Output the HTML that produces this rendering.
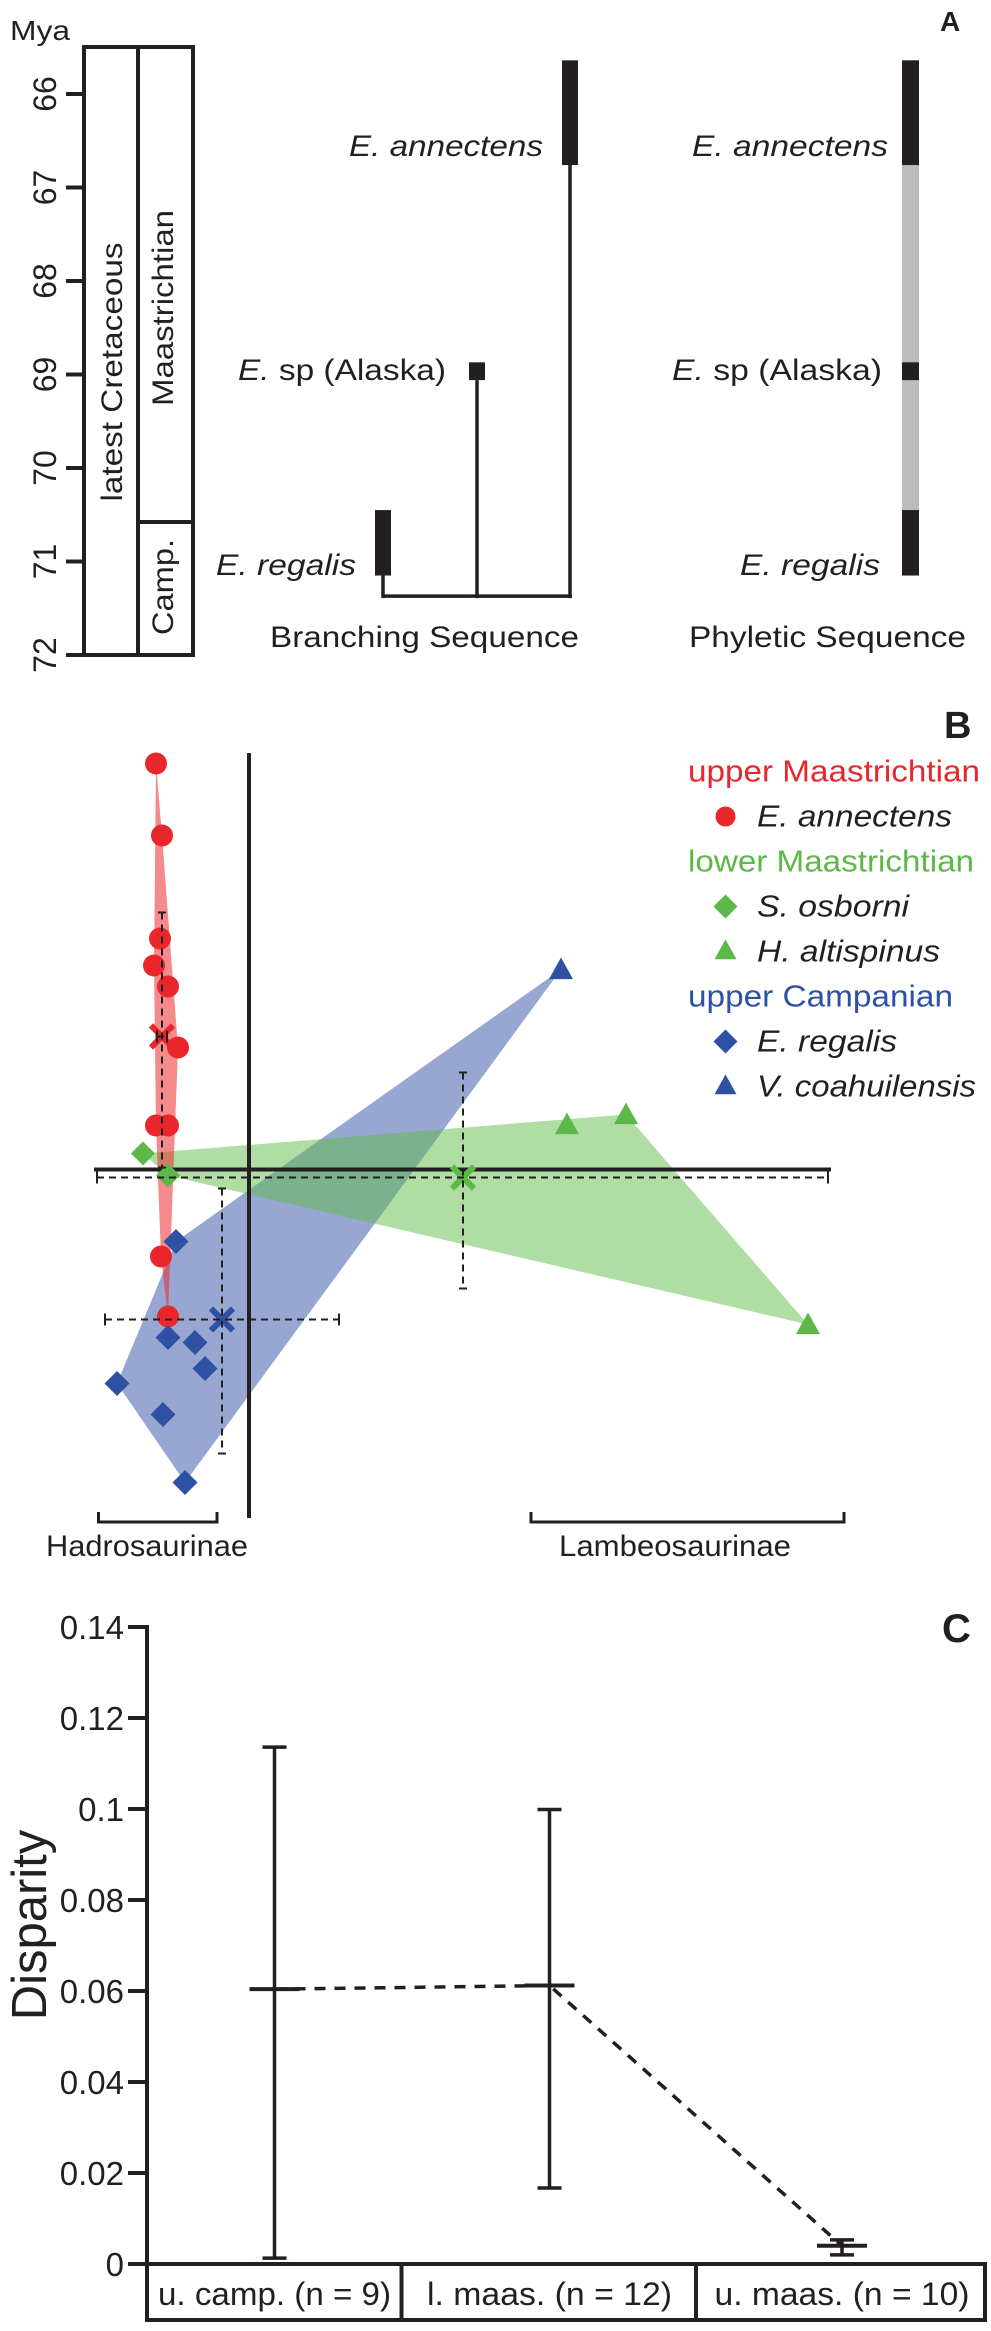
<!DOCTYPE html>
<html><head><meta charset="utf-8"><style>
html,body{margin:0;padding:0;background:#fff;}
svg{display:block;font-family:"Liberation Sans",sans-serif;}
</style></head><body>
<svg id="fig" width="991" height="2331" viewBox="0 0 991 2331" xmlns="http://www.w3.org/2000/svg"></svg>
<script>
// ---------- Panel A data ----------
const ageTicks = [66, 67, 68, 69, 70, 71, 72];
const branchTaxa = ["E. annectens", "E. sp (Alaska)", "E. regalis"];
const rangeTop = [65.64, 68.87, 70.45];
const rangeBottom = [66.76, 69.06, 71.15];
const branchNodeAge = 71.37;
// ---------- Panel B data ----------
const redX = [-0.93, -0.87, -0.89, -0.95, -0.81, -0.71, -0.93, -0.81, -0.88, -0.81];
const redY = [4.06, 3.34, 2.31, 2.04, 1.83, 1.22, 0.44, 0.44, -0.87, -1.47];
const osborniX = [-1.06, -0.81];
const osborniY = [0.16, -0.06];
const altispinusX = [3.18, 3.77, 5.59];
const altispinusY = [0.45, 0.55, -1.55];
const regalisX = [-0.73, -0.81, -0.54, -0.44, -1.32, -0.86, -0.64];
const regalisY = [-0.72, -1.68, -1.73, -1.99, -2.14, -2.45, -3.13];
const coahX = [3.12];
const coahY = [2.0];
const centroidX = [-0.87, 2.14, -0.27];
const centroidY = [1.33, -0.08, -1.5];
const errXlo = [-0.92, -1.52, -1.44];
const errXhi = [-0.82, 5.79, 0.90];
const errYlo = [0.02, -1.19, -2.84];
const errYhi = [2.57, 0.97, -0.19];
// ---------- Panel C data ----------
const cCategories = ["u. camp. (n = 9)", "l. maas. (n = 12)", "u. maas. (n = 10)"];
const cMean = [0.0604, 0.0612, 0.0040];
const cLow = [0.0013, 0.0167, 0.0020];
const cHigh = [0.1136, 0.0999, 0.0053];
const cTicks = [0, 0.02, 0.04, 0.06, 0.08, 0.1, 0.12, 0.14];
const cTickLabels = ["0", "0.02", "0.04", "0.06", "0.08", "0.1", "0.12", "0.14"];

const NS = "http://www.w3.org/2000/svg";
const svg = document.getElementById("fig");
function mk(tag, attrs, parent) {
  const e = document.createElementNS(NS, tag);
  for (const k in attrs) e.setAttribute(k, attrs[k]);
  (parent || svg).appendChild(e);
  return e;
}
function txt(s, attrs, parent) { const e = mk("text", attrs, parent); e.textContent = s; return e; }
const INK = "#231f20";

// ================= PANEL A =================
const yAge = a => 94 + (a - 66) * 93.5;
let g = mk("g", {});


let e;
e = txt("Mya", {x: 10, y: 40, "font-size": 28, textLength: 60, lengthAdjust: "spacingAndGlyphs", fill: INK}, g);
 
e = txt("A", {x: 940, y: 31, "font-size": 28, "font-weight": "bold", fill: INK}, g);
 
e = mk("rect", {x: 84, y: 47, width: 109, height: 608, fill: "none", stroke: INK, "stroke-width": 4}, g);
 
e = mk("line", {x1: 138, y1: 47, x2: 138, y2: 655, stroke: INK, "stroke-width": 4}, g);
 
e = mk("line", {x1: 138, y1: 522, x2: 193, y2: 522, stroke: INK, "stroke-width": 4}, g);
 
e = txt("latest Cretaceous", {x: 0, y: 0, "font-size": 30, "text-anchor": "middle", textLength: 259, lengthAdjust: "spacingAndGlyphs", transform: "translate(122,372) rotate(-90)", fill: INK}, g);
 
e = txt("Maastrichtian", {x: 0, y: 0, "font-size": 30, "text-anchor": "middle", textLength: 196, lengthAdjust: "spacingAndGlyphs", transform: "translate(173,308) rotate(-90)", fill: INK}, g);
 
e = txt("Camp.", {x: 0, y: 0, "font-size": 30, "text-anchor": "middle", textLength: 96, lengthAdjust: "spacingAndGlyphs", transform: "translate(173,587) rotate(-90)", fill: INK}, g);
 
ageTicks.forEach(a => {
  const t = mk("line", {x1: 66, y1: yAge(a), x2: 84, y2: yAge(a), stroke: INK, "stroke-width": 4}, g);
   
  const l = txt(String(a), {x: 0, y: 0, "font-size": 32, "text-anchor": "middle", transform: `translate(56,${yAge(a)}) rotate(-90)`, fill: INK}, g);
   
});
// branching sequence
const branchX = [570, 477, 383];
const labelRight = [543, 446, 356];
const labelLen = [194, 208, 140];
const labelY = [156, 380, 575];
branchTaxa.forEach((n, i) => {
  const r = mk("rect", {x: branchX[i] - 8, y: yAge(rangeTop[i]), width: 16, height: yAge(rangeBottom[i]) - yAge(rangeTop[i]), fill: INK}, g);
   
  const s = mk("line", {x1: branchX[i], y1: yAge(rangeBottom[i]), x2: branchX[i], y2: yAge(branchNodeAge) + 2, stroke: INK, "stroke-width": 3.5}, g);
   
  const parts = n.split(" ");
  const t = mk("text", {x: labelRight[i], y: labelY[i], "font-size": 30, "text-anchor": "end", textLength: labelLen[i], lengthAdjust: "spacingAndGlyphs", fill: INK}, g);
  const t1 = mk("tspan", {"font-style": "italic"}, t); t1.textContent = parts[0] + " ";
  const t2 = mk("tspan", {"font-style": i === 1 ? "normal" : "italic"}, t); t2.textContent = parts.slice(1).join(" ");
   
});
e = mk("line", {x1: 383, y1: yAge(branchNodeAge), x2: 572, y2: yAge(branchNodeAge), stroke: INK, "stroke-width": 3.5}, g);
 
e = txt("Branching Sequence", {x: 270, y: 647, "font-size": 30, textLength: 309, lengthAdjust: "spacingAndGlyphs", fill: INK}, g);
 
// phyletic sequence
e = mk("rect", {x: 902, y: yAge(rangeTop[0]), width: 17, height: yAge(rangeBottom[2]) - yAge(rangeTop[0]), fill: "#bcbcbc"}, g);
 
const phyRight = [888, 882, 880];
const phyLen = [196, 210, 140];
branchTaxa.forEach((n, i) => {
  const r = mk("rect", {x: 902, y: yAge(rangeTop[i]), width: 17, height: yAge(rangeBottom[i]) - yAge(rangeTop[i]), fill: INK}, g);
   
  const parts = n.split(" ");
  const t = mk("text", {x: phyRight[i], y: labelY[i], "font-size": 30, "text-anchor": "end", textLength: phyLen[i], lengthAdjust: "spacingAndGlyphs", fill: INK}, g);
  const t1 = mk("tspan", {"font-style": "italic"}, t); t1.textContent = parts[0] + " ";
  const t2 = mk("tspan", {"font-style": i === 1 ? "normal" : "italic"}, t); t2.textContent = parts.slice(1).join(" ");
   
});
e = txt("Phyletic Sequence", {x: 689, y: 647, "font-size": 30, textLength: 277, lengthAdjust: "spacingAndGlyphs", fill: INK}, g);
 

// ================= PANEL B =================
const bx = v => 249 + v * 100;
const by = v => 1169.5 - v * 100;
const RED = "#e8262c", GREEN = "#5cb848", BLUE = "#2f51a3";
g = mk("g", {});


function hull(xs, ys) {
  const p = xs.map((x, i) => [bx(x), by(ys[i])]).sort((a, b) => a[0] - b[0] || a[1] - b[1]);
  const cr = (o, a, b) => (a[0] - o[0]) * (b[1] - o[1]) - (a[1] - o[1]) * (b[0] - o[0]);
  const lo = [], up = [];
  for (const q of p) { while (lo.length >= 2 && cr(lo[lo.length - 2], lo[lo.length - 1], q) <= 0) lo.pop(); lo.push(q); }
  for (const q of p.slice().reverse()) { while (up.length >= 2 && cr(up[up.length - 2], up[up.length - 1], q) <= 0) up.pop(); up.push(q); }
  return lo.slice(0, -1).concat(up.slice(0, -1)).map(q => q.join(",")).join(" ");
}
e = mk("polygon", {points: hull(regalisX.concat(coahX), regalisY.concat(coahY)), fill: "#2f4fa3", "fill-opacity": 0.5}, g);
 
e = mk("polygon", {points: hull(osborniX.concat(altispinusX), osborniY.concat(altispinusY)), fill: "#62bb4a", "fill-opacity": 0.5}, g);
 
e = mk("polygon", {points: hull(redX, redY), fill: "#ec2a30", "fill-opacity": 0.55}, g);
 
// axes
e = mk("line", {x1: 249, y1: 753, x2: 249, y2: 1518, stroke: INK, "stroke-width": 4}, g);
 
e = mk("line", {x1: 94, y1: 1169.5, x2: 831, y2: 1169.5, stroke: INK, "stroke-width": 4}, g);
 
// markers
function diamond(cx, cy, r, fill, name) {
  const d = mk("polygon", {points: `${cx},${cy - r} ${cx + r},${cy} ${cx},${cy + r} ${cx - r},${cy}`, fill: fill}, g);
   
}
function tri(cx, cy, r, fill, name) {
  const d = mk("polygon", {points: `${cx},${cy - r} ${cx + r},${cy + r * 0.8} ${cx - r},${cy + r * 0.8}`, fill: fill}, g);
   
}
redX.forEach((x, i) => {
  const c = mk("circle", {cx: bx(x), cy: by(redY[i]), r: 11, fill: RED}, g);
   
});
osborniX.forEach((x, i) => diamond(bx(x), by(osborniY[i]), 12, GREEN, 'osborni-point'));
altispinusX.forEach((x, i) => tri(bx(x), by(altispinusY[i]), 12, GREEN, 'altispinus-point'));
regalisX.forEach((x, i) => diamond(bx(x), by(regalisY[i]), 12.5, BLUE, 'regalis-point'));
coahX.forEach((x, i) => tri(bx(x), by(coahY[i]), 12, BLUE, 'coahuilensis-point'));
// centroids + error bars
const cCols = [RED, GREEN, BLUE];
const cNames = ["upper-maastrichtian", "lower-maastrichtian", "upper-campanian"];
centroidX.forEach((x, i) => {
  const cx = bx(x), cy = by(centroidY[i]);
  const cross = mk("path", {d: `M${cx - 11},${cy - 11}L${cx + 11},${cy + 11}M${cx + 11},${cy - 11}L${cx - 11},${cy + 11}`, stroke: cCols[i], "stroke-width": 6}, g);
   
  const x1 = bx(errXlo[i]), x2 = bx(errXhi[i]), y1 = by(errYhi[i]), y2 = by(errYlo[i]);
  const eb = mk("path", {d: `M${x1},${cy}H${x2}M${cx},${y1}V${y2}`, stroke: INK, "stroke-width": 2, "stroke-dasharray": "7,5", fill: "none"}, g);
   
  const caps = mk("path", {d: `M${x1},${cy - 6}V${cy + 6}M${x2},${cy - 6}V${cy + 6}M${cx - 4},${y1}H${cx + 4}M${cx - 4},${y2}H${cx + 4}`, stroke: INK, "stroke-width": 2}, g);
   
});
// legend
e = txt("B", {x: 944, y: 738, "font-size": 38, "font-weight": "bold", fill: INK}, g);
 
const legItems = [
  ["upper Maastrichtian", RED, 781.5, 292, null],
  ["E. annectens", INK, 826.5, 195, "circle-r"],
  ["lower Maastrichtian", GREEN, 871.5, 286, null],
  ["S. osborni", INK, 916.5, 152, "diamond-g"],
  ["H. altispinus", INK, 961.5, 183, "tri-g"],
  ["upper Campanian", BLUE, 1006.5, 265, null],
  ["E. regalis", INK, 1051.5, 140, "diamond-b"],
  ["V. coahuilensis", INK, 1096.5, 219, "tri-b"]
];
legItems.forEach(it => {
  const isHead = it[4] === null;
  const t = txt(it[0], {x: isHead ? 688 : 757, y: it[2], "font-size": 31, "font-style": isHead ? "normal" : "italic", textLength: it[3], lengthAdjust: "spacingAndGlyphs", fill: it[1]}, g);
   
  const my = it[2] - 10;
  if (it[4] === "circle-r") { const c = mk("circle", {cx: 725.5, cy: my, r: 10, fill: RED}, g);   }
  if (it[4] === "diamond-g") diamond(725.5, my, 12, GREEN, 'legend-marker');
  if (it[4] === "tri-g") tri(725.5, my - 1, 11, GREEN, 'legend-marker');
  if (it[4] === "diamond-b") diamond(725.5, my, 12, BLUE, 'legend-marker');
  if (it[4] === "tri-b") tri(725.5, my - 1, 11, BLUE, 'legend-marker');
});
// brackets
e = mk("path", {d: "M98.5,1512V1522H217V1512", stroke: INK, "stroke-width": 3, fill: "none"}, g);
 
e = txt("Hadrosaurinae", {x: 46, y: 1556, "font-size": 30, textLength: 202, lengthAdjust: "spacingAndGlyphs", fill: INK}, g);
 
e = mk("path", {d: "M531,1512V1522H844V1512", stroke: INK, "stroke-width": 3, fill: "none"}, g);
 
e = txt("Lambeosaurinae", {x: 559, y: 1556, "font-size": 30, textLength: 232, lengthAdjust: "spacingAndGlyphs", fill: INK}, g);
 

// ================= PANEL C =================
const cy0 = 2264, cPer = 91 / 0.02;
const cy = v => cy0 - v * cPer;
const cxPos = [274.5, 549.5, 842];
const cBox = [147, 401.5, 696, 985];
g = mk("g", {});


e = txt("C", {x: 942, y: 1642, "font-size": 40, "font-weight": "bold", fill: INK}, g);
 
e = mk("line", {x1: 147, y1: 1625, x2: 147, y2: cy0, stroke: INK, "stroke-width": 4}, g);
 
cTicks.forEach((v, i) => {
  const t = mk("line", {x1: 128, y1: cy(v), x2: 147, y2: cy(v), stroke: INK, "stroke-width": 4}, g);
   
  const l = txt(cTickLabels[i], {x: 124, y: cy(v) + 12, "font-size": 33, "text-anchor": "end", fill: INK}, g);
   
});
e = txt("Disparity", {x: 0, y: 0, "font-size": 49, "text-anchor": "middle", transform: "translate(46,1925) rotate(-90)", fill: INK}, g);
 
e = mk("rect", {x: 147, y: cy0, width: cBox[3] - 147, height: 56, fill: "none", stroke: INK, "stroke-width": 4}, g);
 
cCategories.forEach((c, i) => {
  if (i > 0) { const d = mk("line", {x1: cBox[i], y1: cy0, x2: cBox[i], y2: cy0 + 56, stroke: INK, "stroke-width": 4}, g);   }
  const l = txt(c, {x: cxPos[i], y: 2305, "font-size": 32, "text-anchor": "middle", textLength: [233, 245, 255][i], lengthAdjust: "spacingAndGlyphs", fill: INK}, g);
   
});
// connecting dashed line
e = mk("polyline", {points: cMean.map((m, i) => `${cxPos[i]},${cy(m)}`).join(" "), fill: "none", stroke: INK, "stroke-width": 3.5, "stroke-dasharray": "11,9"}, g);
 
cMean.forEach((m, i) => {
  const x = cxPos[i];
  const v = mk("line", {x1: x, y1: cy(cHigh[i]), x2: x, y2: cy(cLow[i]), stroke: INK, "stroke-width": 3.5}, g);
   
  const caps = mk("path", {d: `M${x - 12},${cy(cHigh[i])}H${x + 12}M${x - 12},${cy(cLow[i])}H${x + 12}`, stroke: INK, "stroke-width": 3.5}, g);
   
  const mb = mk("line", {x1: x - 25, y1: cy(m), x2: x + 25, y2: cy(m), stroke: INK, "stroke-width": 4}, g);
   
});
</script>
</body></html>
